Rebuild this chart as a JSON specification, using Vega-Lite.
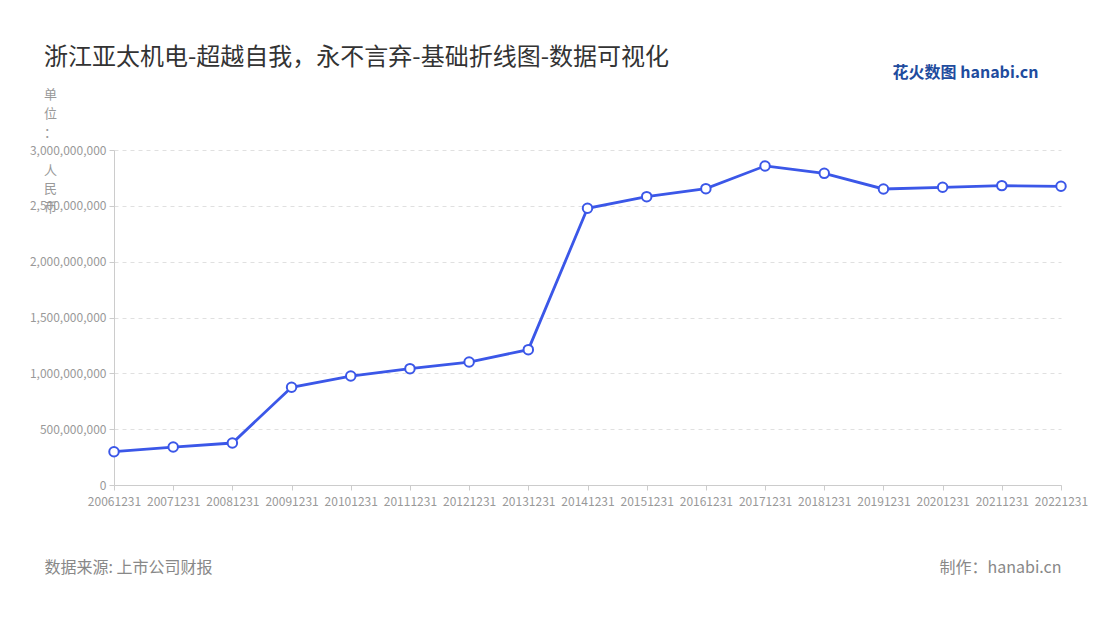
{
  "$schema": "https://vega.github.io/schema/vega-lite/v6.json",
  "width": 947,
  "height": 335,
  "autosize": {"type": "none"},
  "padding": {"left": 114, "top": 150, "right": 39, "bottom": 135},
  "background": "white",
  "config": {
    "font": "Noto Sans CJK SC",
    "view": {"stroke": null}
  },
  "title": {
    "text": "浙江亚太机电-超越自我，永不言弃-基础折线图-数据可视化",
    "anchor": "start",
    "frame": "group",
    "dx": -70,
    "dy": 10,
    "fontSize": 24,
    "fontWeight": "normal",
    "color": "#333333",
    "font": "Noto Sans CJK SC"
  },
  "data": {
    "values": [
      {"date": "20061231", "value": 298000000},
      {"date": "20071231", "value": 340000000},
      {"date": "20081231", "value": 376000000},
      {"date": "20091231", "value": 875000000},
      {"date": "20101231", "value": 976000000},
      {"date": "20111231", "value": 1042000000},
      {"date": "20121231", "value": 1101000000},
      {"date": "20131231", "value": 1212000000},
      {"date": "20141231", "value": 2478000000},
      {"date": "20151231", "value": 2582000000},
      {"date": "20161231", "value": 2654000000},
      {"date": "20171231", "value": 2857000000},
      {"date": "20181231", "value": 2791000000},
      {"date": "20191231", "value": 2651000000},
      {"date": "20201231", "value": 2666000000},
      {"date": "20211231", "value": 2681000000},
      {"date": "20221231", "value": 2675000000}
    ]
  },
  "layer": [
    {
      "mark": {
        "type": "line",
        "color": "#3b57e8",
        "strokeWidth": 2.8,
        "point": {"filled": false, "fill": "white", "stroke": "#3b57e8", "strokeWidth": 2, "size": 90, "opacity": 1}
      },
      "encoding": {
        "x": {
          "field": "date",
          "type": "ordinal",
          "sort": null,
          "scale": {"padding": 0},
          "axis": {
            "labelAngle": 0,
            "labelColor": "#999999",
            "labelFontSize": 12,
            "labelFont": "Noto Sans CJK SC",
            "labelPadding": 6,
            "domainColor": "#cccccc",
            "tickColor": "#cccccc",
            "tickSize": 5,
            "grid": false,
            "title": "数据来源: 上市公司财报",
            "titleAnchor": "start",
            "titleAlign": "left",
            "titleX": -70,
            "titleY": 82,
            "titleBaseline": "middle",
            "titleFontSize": 16,
            "titleFontWeight": "normal",
            "titleColor": "#888888",
            "titleFont": "Noto Sans CJK SC"
          }
        },
        "y": {
          "field": "value",
          "type": "quantitative",
          "scale": {"domain": [0, 3000000000]},
          "axis": {
            "values": [0, 500000000, 1000000000, 1500000000, 2000000000, 2500000000, 3000000000],
            "format": ",d",
            "labelColor": "#999999",
            "labelFontSize": 12,
            "labelFont": "Noto Sans CJK SC",
            "labelPadding": 3,
            "domain": true,
            "domainColor": "#cccccc",
            "tickColor": "#cccccc",
            "tickSize": 5,
            "grid": true,
            "gridColor": "#e0e0e0",
            "gridDash": [4, 4],
            "title": ["单", "位", "："],
            "titleAngle": 0,
            "titleAlign": "center",
            "titleBaseline": "top",
            "titleX": -64,
            "titleY": -62,
            "titleLineHeight": 19,
            "titleFontSize": 13,
            "titleFontWeight": "normal",
            "titleColor": "#999999",
            "titleFont": "Noto Sans CJK SC"
          }
        }
      }
    },
    {
      "mark": {"type": "line", "opacity": 0},
      "encoding": {
        "x": {
          "field": "date",
          "type": "ordinal",
          "sort": null,
          "axis": {
            "orient": "bottom",
            "labels": false,
            "ticks": false,
            "domain": false,
            "grid": false,
            "title": "制作：hanabi.cn",
            "titleAnchor": "start",
            "titleAlign": "right",
            "titleX": 947,
            "titleY": 82,
            "titleBaseline": "middle",
            "titleFontSize": 16,
            "titleFontWeight": "normal",
            "titleColor": "#888888",
            "titleFont": "Noto Sans CJK SC"
          }
        },
        "y": {
          "field": "value",
          "type": "quantitative",
          "axis": {
            "orient": "right",
            "labels": false,
            "ticks": false,
            "domain": false,
            "grid": false,
            "title": "花火数图 hanabi.cn",
            "titleAngle": 0,
            "titleAlign": "center",
            "titleBaseline": "middle",
            "titleX": -96,
            "titleY": -78,
            "titleFontSize": 16,
            "titleFontWeight": "bold",
            "titleColor": "#1f4c9e",
            "titleFont": "Noto Sans CJK SC"
          }
        }
      }
    },
    {
      "mark": {"type": "line", "opacity": 0},
      "encoding": {
        "x": {"field": "date", "type": "ordinal", "sort": null, "axis": null},
        "y": {
          "field": "value",
          "type": "quantitative",
          "axis": {
            "orient": "left",
            "labels": false,
            "ticks": false,
            "domain": false,
            "grid": false,
            "title": ["人", "民", "币"],
            "titleAngle": 0,
            "titleAlign": "center",
            "titleBaseline": "top",
            "titleX": -64,
            "titleY": 14,
            "titleLineHeight": 18.5,
            "titleFontSize": 13,
            "titleFontWeight": "normal",
            "titleColor": "#999999",
            "titleFont": "Noto Sans CJK SC"
          }
        }
      }
    }
  ],
  "resolve": {"axis": {"x": "independent", "y": "independent"}}
}
